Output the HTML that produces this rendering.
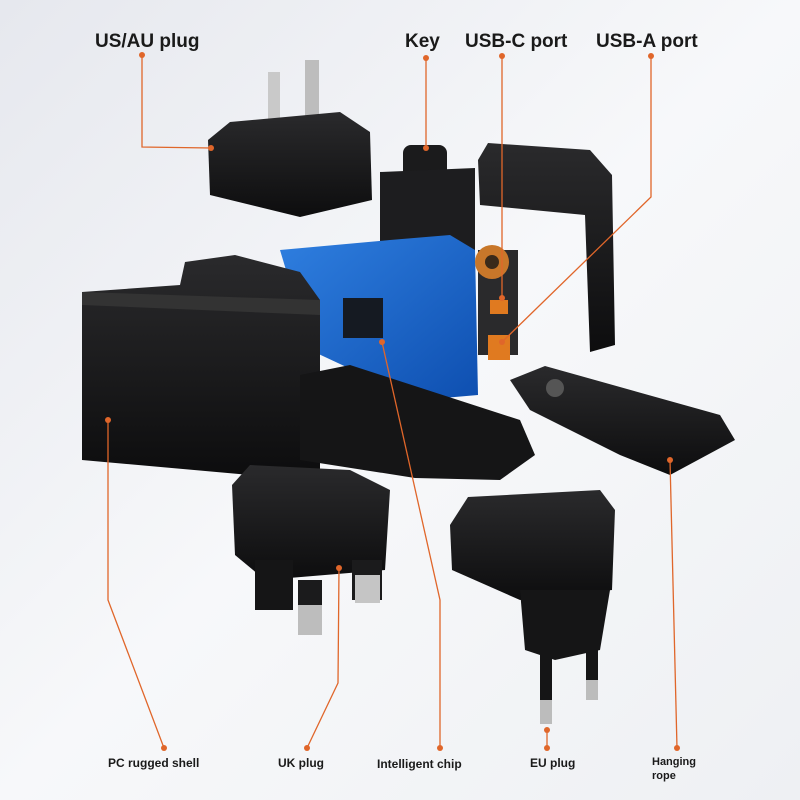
<!DOCTYPE html>
<html><head><meta charset="utf-8"><style>
html,body{margin:0;padding:0;width:800px;height:800px;overflow:hidden;background:#f1f2f5;}
svg{display:block}
text{font-family:"Liberation Sans",sans-serif;font-weight:bold;fill:#1a1a1a}
</style></head><body>
<svg width="800" height="800" viewBox="0 0 800 800" xmlns="http://www.w3.org/2000/svg">
<defs>
<linearGradient id="bg" x1="0" y1="0" x2="1" y2="1">
<stop offset="0" stop-color="#e6e8ee"/><stop offset="0.5" stop-color="#f7f8fa"/><stop offset="1" stop-color="#eef0f3"/></linearGradient>
<linearGradient id="blk" x1="0" y1="0" x2="0" y2="1"><stop offset="0" stop-color="#2a2a2c"/><stop offset="1" stop-color="#0d0d0e"/></linearGradient>
<linearGradient id="pcb" x1="0" y1="0" x2="1" y2="1"><stop offset="0" stop-color="#2f7fe0"/><stop offset="1" stop-color="#0e4fb0"/></linearGradient>
</defs>
<rect width="800" height="800" fill="url(#bg)"/>
<!-- US plug -->
<rect x="268" y="72" width="12" height="60" fill="#c9c9c9"/>
<rect x="305" y="60" width="14" height="65" fill="#bdbdbd"/>
<path d="M208 140 L230 122 L340 112 L370 132 L372 200 L300 217 L210 195 Z" fill="url(#blk)"/>
<!-- right shell -->
<path d="M478 160 L488 143 L590 150 L612 175 L615 345 L590 352 L585 215 L480 205 Z" fill="url(#blk)"/>
<!-- key -->
<rect x="403" y="145" width="44" height="55" rx="8" fill="#1b1b1c"/>
<rect x="410" y="200" width="30" height="45" fill="#8a8a8a"/>
<path d="M380 172 L475 168 L475 250 L380 250 Z" fill="#1d1d1f"/>
<!-- PCB -->
<path d="M280 250 L390 240 L450 235 L475 250 L478 395 L420 400 L385 385 L310 350 L295 300 Z" fill="url(#pcb)"/>
<rect x="343" y="298" width="40" height="40" fill="#151a22"/>
<rect x="478" y="250" width="40" height="105" fill="#2a2a2c"/>
<circle cx="492" cy="262" r="17" fill="#c8772a"/>
<circle cx="492" cy="262" r="7" fill="#3a2a1a"/>
<rect x="490" y="300" width="18" height="14" fill="#e07a20"/>
<rect x="488" y="335" width="22" height="25" fill="#e07a20"/>
<!-- left shell -->
<path d="M82 292 L180 285 L185 262 L235 255 L300 272 L320 300 L320 470 L250 475 L82 460 Z" fill="url(#blk)"/>
<path d="M82 292 L320 300 L320 315 L82 305 Z" fill="#333"/>
<!-- base -->
<path d="M300 375 L350 365 L520 420 L535 455 L500 480 L415 478 L300 460 Z" fill="#151516"/>
<!-- rope -->
<path d="M510 380 L545 366 L720 415 L735 440 L670 475 L620 455 L530 410 Z" fill="url(#blk)"/>
<circle cx="555" cy="388" r="9" fill="#555"/>
<!-- UK plug -->
<path d="M232 485 L250 465 L350 470 L390 490 L385 570 L265 580 L235 555 Z" fill="url(#blk)"/>
<rect x="255" y="560" width="38" height="50" fill="#151516"/>
<rect x="298" y="580" width="24" height="50" fill="#1b1b1c"/><rect x="298" y="605" width="24" height="30" fill="#bdbdbd"/>
<rect x="352" y="560" width="30" height="40" fill="#1b1b1c"/><rect x="355" y="575" width="25" height="28" fill="#c5c5c5"/>
<!-- EU plug -->
<path d="M450 525 L468 497 L600 490 L615 510 L612 590 L520 600 L452 570 Z" fill="url(#blk)"/>
<path d="M520 590 L610 590 L600 650 L555 660 L525 650 Z" fill="#151516"/>
<rect x="540" y="650" width="12" height="50" fill="#151516"/><rect x="540" y="700" width="12" height="24" fill="#bcbcbc"/>
<rect x="586" y="640" width="12" height="40" fill="#151516"/><rect x="586" y="680" width="12" height="20" fill="#bcbcbc"/>
<!-- leader lines -->
<g stroke="#e0662a" stroke-width="1.3" fill="none">
<polyline points="142,55 142,147 211,148"/>
<line x1="426" y1="58" x2="426" y2="148"/>
<line x1="502" y1="56" x2="502" y2="298"/>
<polyline points="651,56 651,197 502,342"/>
<polyline points="108,420 108,600 164,748"/>
<polyline points="339,568 338,683 307,748"/>
<polyline points="382,342 440,600 440,748"/>
<line x1="547" y1="730" x2="547" y2="748"/>
<line x1="670" y1="460" x2="677" y2="748"/>
</g>
<g fill="#e0662a">
<circle cx="142" cy="55" r="3"/><circle cx="426" cy="58" r="3"/><circle cx="502" cy="56" r="3"/><circle cx="651" cy="56" r="3"/>
<circle cx="211" cy="148" r="3"/><circle cx="426" cy="148" r="3"/><circle cx="502" cy="298" r="3"/><circle cx="502" cy="342" r="3"/>
<circle cx="108" cy="420" r="3"/><circle cx="339" cy="568" r="3"/><circle cx="382" cy="342" r="3"/><circle cx="547" cy="730" r="3"/><circle cx="670" cy="460" r="3"/>
<circle cx="164" cy="748" r="3"/><circle cx="307" cy="748" r="3"/><circle cx="440" cy="748" r="3"/><circle cx="547" cy="748" r="3"/><circle cx="677" cy="748" r="3"/>
</g>
<text x="95" y="47" font-size="19">US/AU plug</text>
<text x="405" y="47" font-size="19">Key</text>
<text x="465" y="47" font-size="19">USB-C port</text>
<text x="596" y="47" font-size="19">USB-A port</text>
<text x="108" y="767" font-size="12">PC rugged shell</text>
<text x="278" y="767" font-size="12">UK plug</text>
<text x="377" y="768" font-size="12">Intelligent chip</text>
<text x="530" y="767" font-size="12">EU plug</text>
<text x="652" y="765" font-size="11">Hanging</text>
<text x="652" y="779" font-size="11">rope</text>
</svg>
</body></html>
